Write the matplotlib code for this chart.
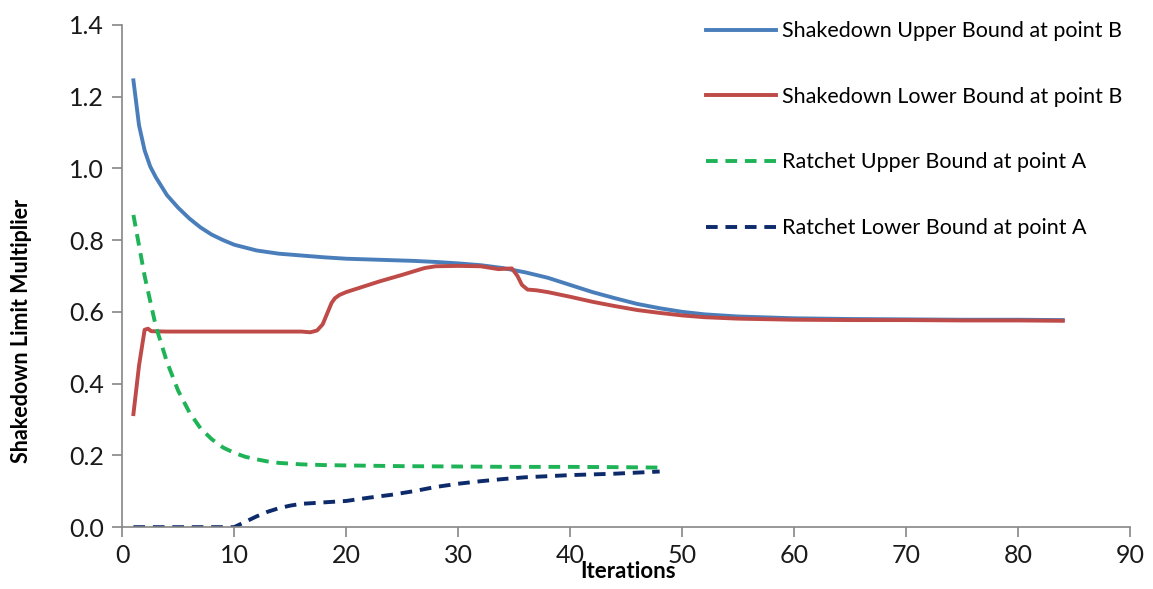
# Shakedown / ratchet limit multiplier vs iterations
import matplotlib.pyplot as plt

# iterations
it_sd = [1, 1.5, 2, 2.5, 3, 4, 5, 6, 7, 8, 9, 10, 12, 14, 16, 18, 20, 22, 24, 26,
         28, 30, 32, 34, 36, 38, 40, 42, 44, 46, 48, 50, 52, 55, 60, 65, 70, 75,
         80, 84]
sd_upper = [1.245, 1.12, 1.05, 1.005, 0.975, 0.925, 0.89, 0.86, 0.835, 0.815,
            0.80, 0.787, 0.771, 0.762, 0.757, 0.752, 0.748, 0.746, 0.744, 0.742,
            0.739, 0.735, 0.730, 0.722, 0.710, 0.695, 0.675, 0.655, 0.638, 0.622,
            0.610, 0.600, 0.593, 0.587, 0.582, 0.580, 0.579, 0.578, 0.578, 0.577]

it_sd_low = [1, 1.5, 2, 2.3, 2.6, 4, 6, 8, 10, 12, 14, 16, 16.8, 17.4, 17.9, 18.3,
             18.7, 19, 19.4, 20, 21, 23, 25, 27, 28, 30, 32, 33.6, 34.8, 35.3,
             35.7, 36.2, 37, 38, 40, 42, 44, 46, 48, 50, 52, 55, 60, 65, 70, 75,
             80, 84]
sd_lower = [0.315, 0.45, 0.550, 0.553, 0.546, 0.545, 0.545, 0.545, 0.545, 0.545,
            0.545, 0.545, 0.543, 0.548, 0.565, 0.595, 0.625, 0.638, 0.647, 0.655,
            0.665, 0.685, 0.703, 0.722, 0.727, 0.728, 0.727, 0.719, 0.721, 0.700,
            0.675, 0.662, 0.660, 0.655, 0.642, 0.628, 0.616, 0.605, 0.597, 0.590,
            0.585, 0.581, 0.578, 0.577, 0.577, 0.576, 0.576, 0.575]

it_r = [1, 2, 3, 4, 5, 6, 7, 8, 9, 10, 11, 12, 13, 14, 15, 16, 18, 20, 25, 30,
        35, 40, 45, 48]
r_upper = [0.87, 0.70, 0.56, 0.46, 0.38, 0.32, 0.275, 0.245, 0.222, 0.207, 0.196,
           0.189, 0.183, 0.179, 0.177, 0.175, 0.173, 0.172, 0.170, 0.169, 0.168,
           0.168, 0.167, 0.166]

it_rl = [1, 4, 7, 10, 11, 12, 13, 14, 15, 16, 18, 20, 22, 24, 26, 28, 30, 32, 34,
         36, 38, 40, 42, 44, 46, 48]
r_lower = [0.0, 0.0, 0.0, 0.0, 0.015, 0.03, 0.043, 0.053, 0.06, 0.065, 0.069, 0.073,
           0.082, 0.090, 0.100, 0.112, 0.121, 0.128, 0.134, 0.139, 0.142, 0.145,
           0.147, 0.149, 0.152, 0.155]

labels = ['Shakedown Upper Bound at point B', 'Shakedown Lower Bound at point B',
          'Ratchet Upper Bound at point A', 'Ratchet Lower Bound at point A']

plt.rcParams['font.family'] = ['Lato', 'DejaVu Sans']

fig = plt.figure(figsize=(11.53, 5.89), dpi=100)
ax = fig.add_axes([0.106, 0.105, 0.874, 0.853])

ax.plot(it_sd, sd_upper, color='#4a7ebb', lw=2.8, label=labels[0])
ax.plot(it_sd_low, sd_lower, color='#be4b48', lw=2.8, label=labels[1])
ax.plot(it_r, r_upper, color='#1db356', lw=2.8, ls=(0, (3, 2)), label=labels[2])
ax.plot(it_rl, r_lower, color='#0d2a6b', lw=2.8, ls=(0, (3, 2)), label=labels[3])

ax.set_xlim(0, 90)
ax.set_ylim(0, 1.4)
ax.set_xticks(range(0, 91, 10))
ax.set_yticks([0.0, 0.2, 0.4, 0.6, 0.8, 1.0, 1.2, 1.4])
ax.set_yticklabels(['%.1f' % v for v in ax.get_yticks()])

for s in ['top', 'right']:
    ax.spines[s].set_visible(False)
for s in ['left', 'bottom']:
    ax.spines[s].set_color('#868686')
    ax.spines[s].set_linewidth(1.2)
ax.tick_params(colors='#868686', labelcolor='#1a1a1a', labelsize=18,
               length=7, width=1.2, direction='out')
ax.tick_params(axis='x', pad=5)
ax.tick_params(axis='y', pad=6)

fig.text(0.545, 0.012, 'Iterations', fontsize=16, fontweight='bold',
         ha='center', va='bottom')
fig.text(0.019, 0.438, 'Shakedown Limit Multiplier', fontsize=15.5,
         fontweight='bold', rotation=90, ha='center', va='center')

ax.legend(loc='upper left', bbox_to_anchor=(0.5955, 0.997), bbox_transform=fig.transFigure,
          frameon=False, fontsize=15.5, handlelength=3.25, handletextpad=0.3,
          labelspacing=2.12)

fig.savefig('out.png', dpi=100)
